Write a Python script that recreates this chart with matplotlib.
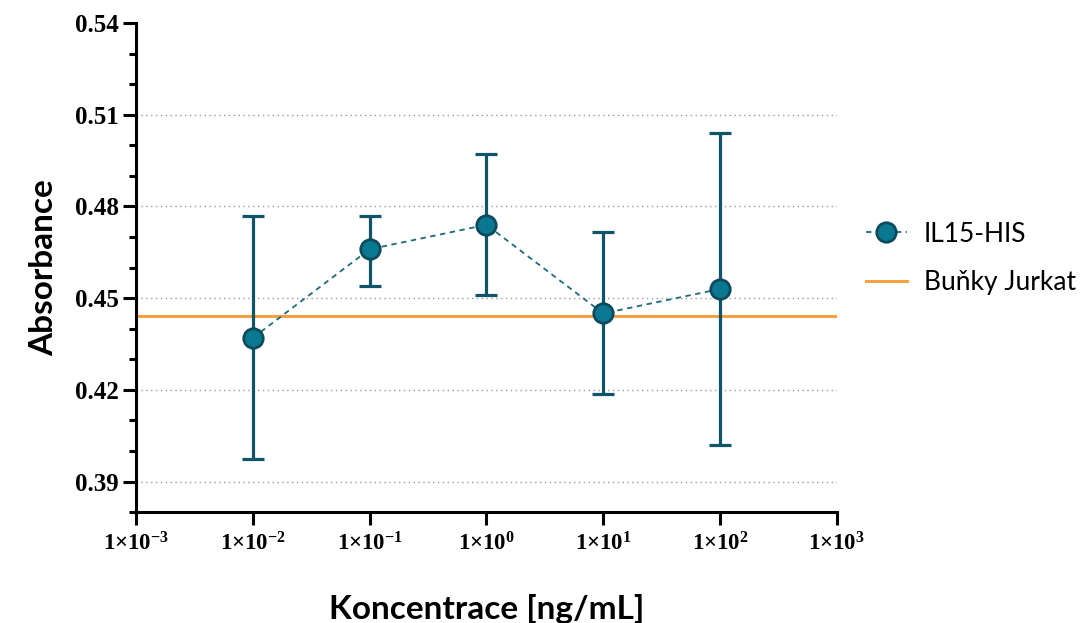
import matplotlib.pyplot as plt
import matplotlib.ticker as mticker

# IL15-HIS absorbance vs concentration
konc = [1e-2, 1e-1, 1e0, 1e1, 1e2]
absorb = [0.437, 0.466, 0.474, 0.445, 0.453]
err_low = [0.3975, 0.454, 0.451, 0.4185, 0.402]
err_high = [0.477, 0.477, 0.497, 0.4715, 0.504]

# control level
jurkat = 0.444

x_ticks = [1e-3, 1e-2, 1e-1, 1e0, 1e1, 1e2, 1e3]
x_ticklabels = ['-3', '-2', '-1', '0', '1', '2', '3']
y_ticks = [0.39, 0.42, 0.45, 0.48, 0.51, 0.54]

plt.rcParams['mathtext.fontset'] = 'custom'
plt.rcParams['mathtext.bf'] = 'Liberation Serif:bold'
plt.rcParams['mathtext.rm'] = 'Liberation Serif'

teal = '#0b7891'
dark = '#115468'
orange = '#f9a03f'

fig = plt.figure(figsize=(10.84, 6.23), dpi=100)
ax = fig.add_axes([0.1255, 0.178, 0.6465, 0.785])

yerr = [[a - lo for a, lo in zip(absorb, err_low)],
        [hi - a for a, hi in zip(absorb, err_high)]]

ax.axhline(jurkat, color=orange, lw=2.2, zorder=2, label='Buňky Jurkat')
ax.errorbar(konc, absorb, yerr=yerr, fmt='none', ecolor=dark, elinewidth=2.3,
            capsize=8, capthick=2.3, zorder=3)
ax.plot(konc, absorb, linestyle=(0, (3, 2.5)), color='#1b6a80', lw=1.3,
        marker='o', markersize=14, markerfacecolor=teal, markeredgecolor='#0d4a5e',
        markeredgewidth=2, zorder=4, label='IL15-HIS')

ax.set_xscale('log')
ax.set_xlim(1e-3, 1e3)
ax.set_ylim(0.38, 0.54)

ax.set_xticks(x_ticks)
ax.set_xticklabels([r'$\mathbf{1{\times}10^{%s}}$' % e for e in x_ticklabels])
ax.xaxis.set_minor_locator(mticker.NullLocator())
ax.set_yticks(y_ticks)
ax.set_yticklabels(['%.2f' % v for v in y_ticks])
ax.yaxis.set_minor_locator(mticker.MultipleLocator(0.01))

for lab in ax.get_yticklabels():
    lab.set_fontfamily('Liberation Serif')
    lab.set_fontweight('bold')
    lab.set_fontsize(18)
for lab in ax.get_xticklabels():
    lab.set_fontsize(16.5)

ax.tick_params(axis='both', which='major', length=9.5, width=2.2, direction='out', pad=3)
ax.tick_params(axis='y', which='minor', length=5, width=2.2)
ax.tick_params(axis='x', which='major', pad=5)

for side in ['top', 'right']:
    ax.spines[side].set_visible(False)
for side in ['left', 'bottom']:
    ax.spines[side].set_linewidth(2.2)

ax.grid(axis='y', which='major', linestyle=(0, (1, 2.5)), color='#999999', lw=1)
ax.get_ygridlines()[-1].set_visible(False)
ax.set_axisbelow(True)

ax.set_ylabel('Absorbance', fontfamily='Lato', fontweight='bold', fontsize=24, labelpad=12)
ax.set_xlabel('Koncentrace [ng/mL]', fontfamily='Lato', fontweight='bold', fontsize=24, labelpad=28)

handles, labels = ax.get_legend_handles_labels()
ax.legend(handles[::-1], labels[::-1], loc='center left', bbox_to_anchor=(0.777, 0.585),
          bbox_transform=fig.transFigure, frameon=False, prop={'family': 'Lato', 'size': 19},
          labelspacing=0.9, handlelength=1.55, handletextpad=0.65)

fig.savefig('out.png', dpi=100)
